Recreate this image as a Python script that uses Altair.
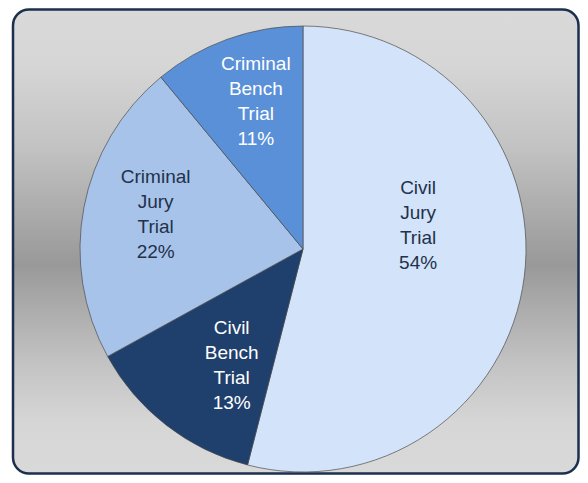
import altair as alt
import pandas as pd

# ---- data ----
types = ["Civil Jury Trial", "Civil Bench Trial", "Criminal Jury Trial", "Criminal Bench Trial"]
shares = [54, 13, 22, 11]
slice_colors = ["#D3E3F9", "#1F3F6D", "#A8C3E9", "#5A90D8"]

df = pd.DataFrame({"type": types, "share": shares, "order": list(range(len(types)))})
df["label"] = ["\n".join(t.split()) + f"\n{s}%" for t, s in zip(types, shares)]

W, H = 572, 467
CX, CY, R = 295, 241, 223
FONT = "Liberation Sans Narrow, Arial Narrow, Liberation Sans, sans-serif"
FS, LH = 19, 25

deco = alt.Data(values=[{"k": 1}])

bg = alt.Chart(deco).mark_rect(
    cornerRadius=16,
    stroke="#1B2F4E",
    strokeWidth=2.5,
    fill=alt.Gradient(
        gradient="linear", x1=0, x2=0, y1=0, y2=1,
        stops=[
            alt.GradientStop(offset=0.0, color="#D9D9D9"),
            alt.GradientStop(offset=0.12, color="#D6D6D6"),
            alt.GradientStop(offset=0.30, color="#C2C2C2"),
            alt.GradientStop(offset=0.45, color="#A9A9A9"),
            alt.GradientStop(offset=0.55, color="#999999"),
            alt.GradientStop(offset=0.63, color="#A9A9A9"),
            alt.GradientStop(offset=0.77, color="#C4C4C4"),
            alt.GradientStop(offset=0.89, color="#D6D6D6"),
            alt.GradientStop(offset=1.0, color="#D9D9D9"),
        ],
    ),
).encode(x=alt.value(5), x2=alt.value(W - 1.5), y=alt.value(1.5), y2=alt.value(H - 1.5))

shadow = alt.Chart(deco).mark_circle(color="#000000", opacity=0.18).encode(
    x=alt.value(CX + 3), y=alt.value(CY + 4), size=alt.value(3.1416 * (R + 1) ** 2)
)

base = alt.Chart(df).encode(
    theta=alt.Theta("share:Q", stack=True),
    order=alt.Order("order:Q"),
    x=alt.value(CX),
    y=alt.value(CY),
)

pie = base.mark_arc(
    outerRadius=R, stroke="#4d4d4d", strokeWidth=1, strokeOpacity=0.7
).encode(
    color=alt.Color("type:N", scale=alt.Scale(domain=types, range=slice_colors), legend=None)
)

text_color = alt.condition(
    "indexof(datum.type, 'Bench') >= 0", alt.value("#FFFFFF"), alt.value("#22324B")
)

# label placement (radius, dx, dy) per slice, like Excel's best-fit labels
BLOCK = -1.5 * LH  # centre the 4-line block on its anchor
placement = {
    "Civil Jury Trial": (116, 0, -38 + BLOCK),
    "Civil Bench Trial": (136, 12, 9 + BLOCK),
    "Criminal Jury Trial": (150, 0, -6 + BLOCK),
    "Criminal Bench Trial": (157, 6, 0 + BLOCK),
}


def label_layer(name):
    r, dx, dy = placement[name]
    return base.mark_text(
        font=FONT, fontSize=FS, lineHeight=LH, lineBreak="\n",
        align="center", baseline="middle", radius=r, dx=dx, dy=dy,
    ).encode(
        text="label:N",
        color=text_color,
        opacity=alt.condition(f"datum.type === '{name}'", alt.value(1), alt.value(0)),
    )


label_layers = [label_layer(t) for t in types]

chart = alt.layer(bg, shadow, pie, *label_layers).properties(
    width=W, height=H, padding=0, autosize=alt.AutoSizeParams(type="none"), background="white"
).configure_view(stroke=None)

chart.save("out.html", embed_options={"renderer": "svg", "actions": False})
